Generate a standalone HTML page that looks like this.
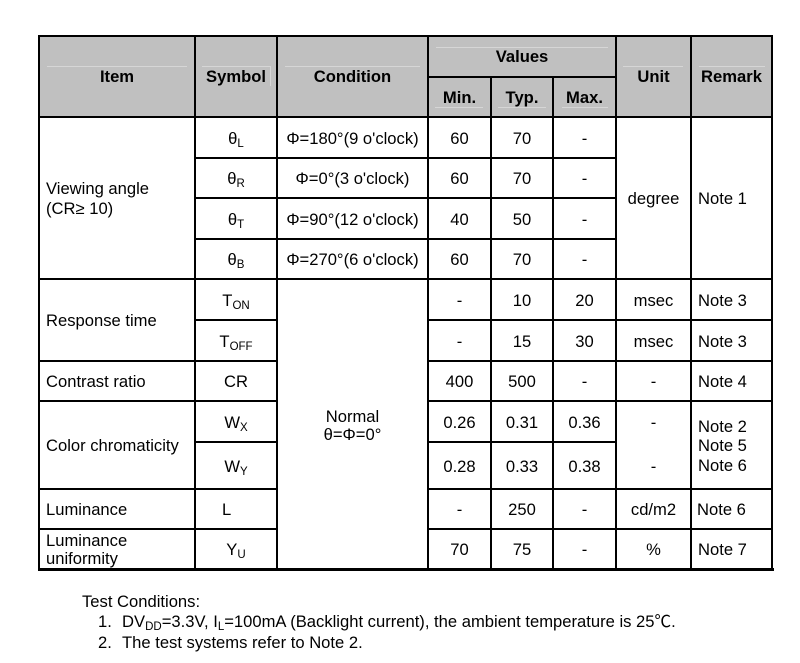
<!DOCTYPE html>
<html>
<head>
<meta charset="utf-8">
<style>
  html, body { margin:0; padding:0; background:#fff; }
  body { width:800px; height:663px; position:relative; overflow:hidden;
         font-family:"Liberation Sans", Arial, "Noto Sans CJK SC", sans-serif; font-size:16.6px; color:#000; }
  .c { position:absolute; display:flex; align-items:center; justify-content:center; text-align:center; line-height:20px; white-space:nowrap; padding-top:2px; box-sizing:border-box; }
  .l { justify-content:flex-start; text-align:left; }
  .h { background:#c0c0c0; }
  .b { font-weight:bold; font-size:16.6px; padding-top:1px; }
  .ln { position:absolute; background:#000; }
  .fl { position:absolute; background:#d6d6d6; }
  sub { font-size:11.5px; vertical-align:-3px; line-height:0; }
  .ft { position:absolute; line-height:20px; white-space:nowrap; }
</style>
</head>
<body>

<!-- header background -->
<div class="h" style="position:absolute;left:39px;top:36px;width:733px;height:81px;"></div>

<!-- faint header lines -->
<div class="fl" style="left:47px;top:66px;width:140px;height:1px;"></div>
<div class="fl" style="left:202px;top:66px;width:68px;height:1px;"></div>
<div class="fl" style="left:270px;top:66px;width:1px;height:20px;"></div>
<div class="fl" style="left:285px;top:66px;width:135px;height:1px;"></div>
<div class="fl" style="left:623px;top:66px;width:60px;height:1px;"></div>
<div class="fl" style="left:699px;top:66px;width:66px;height:1px;"></div>
<div class="fl" style="left:436px;top:47px;width:172px;height:1px;"></div>
<div class="fl" style="left:435px;top:107px;width:48px;height:1px;"></div>
<div class="fl" style="left:498px;top:107px;width:48px;height:1px;"></div>
<div class="fl" style="left:562px;top:107px;width:46px;height:1px;"></div>

<!-- outer border -->
<div class="ln" style="left:38px;top:35px;width:735px;height:2px;"></div>
<div class="ln" style="left:38px;top:568px;width:736px;height:3px;"></div>
<div class="ln" style="left:38px;top:35px;width:2px;height:536px;"></div>
<div class="ln" style="left:771px;top:35px;width:2px;height:536px;"></div>

<!-- vertical inner lines -->
<div class="ln" style="left:194px;top:36px;width:2px;height:534px;"></div>
<div class="ln" style="left:276px;top:36px;width:2px;height:534px;"></div>
<div class="ln" style="left:427px;top:36px;width:2px;height:534px;"></div>
<div class="ln" style="left:490px;top:76px;width:2px;height:494px;"></div>
<div class="ln" style="left:552px;top:76px;width:2px;height:494px;"></div>
<div class="ln" style="left:615px;top:36px;width:2px;height:534px;"></div>
<div class="ln" style="left:690px;top:36px;width:2px;height:534px;"></div>

<!-- horizontal inner lines -->
<div class="ln" style="left:428px;top:76px;width:188px;height:2px;"></div>
<div class="ln" style="left:39px;top:116px;width:733px;height:2px;"></div>
<div class="ln" style="left:195px;top:157px;width:421px;height:2px;"></div>
<div class="ln" style="left:195px;top:197px;width:421px;height:2px;"></div>
<div class="ln" style="left:195px;top:238px;width:421px;height:2px;"></div>
<div class="ln" style="left:39px;top:278px;width:733px;height:2px;"></div>
<div class="ln" style="left:195px;top:319px;width:82px;height:2px;"></div>
<div class="ln" style="left:428px;top:319px;width:344px;height:2px;"></div>
<div class="ln" style="left:39px;top:360px;width:238px;height:2px;"></div>
<div class="ln" style="left:428px;top:360px;width:344px;height:2px;"></div>
<div class="ln" style="left:39px;top:400px;width:238px;height:2px;"></div>
<div class="ln" style="left:428px;top:400px;width:344px;height:2px;"></div>
<div class="ln" style="left:195px;top:441px;width:82px;height:2px;"></div>
<div class="ln" style="left:428px;top:441px;width:188px;height:2px;"></div>
<div class="ln" style="left:39px;top:488px;width:238px;height:2px;"></div>
<div class="ln" style="left:428px;top:488px;width:344px;height:2px;"></div>
<div class="ln" style="left:39px;top:528px;width:238px;height:2px;"></div>
<div class="ln" style="left:428px;top:528px;width:344px;height:2px;"></div>

<!-- header text -->
<div class="c b" style="left:39px;top:36px;width:156px;height:80px;"><span>Item</span></div>
<div class="c b" style="left:195px;top:36px;width:82px;height:80px;"><span>Symbol</span></div>
<div class="c b" style="left:277px;top:36px;width:151px;height:80px;"><span>Condition</span></div>
<div class="c b" style="left:428px;top:36px;width:188px;height:41px;"><span>Values</span></div>
<div class="c b" style="left:428px;top:77px;width:63px;height:40px;"><span>Min.</span></div>
<div class="c b" style="left:491px;top:77px;width:62px;height:40px;"><span>Typ.</span></div>
<div class="c b" style="left:553px;top:77px;width:63px;height:40px;"><span>Max.</span></div>
<div class="c b" style="left:616px;top:36px;width:75px;height:80px;"><span>Unit</span></div>
<div class="c b" style="left:691px;top:36px;width:81px;height:80px;"><span>Remark</span></div>

<!-- Viewing angle -->
<div class="c l" style="left:46px;top:117px;width:148px;height:162px;"><span>Viewing angle<br>(CR≥ 10)</span></div>
<div class="c" style="left:195px;top:117px;width:82px;height:41px;"><span>θ<sub>L</sub></span></div>
<div class="c" style="left:195px;top:158px;width:82px;height:40px;"><span>θ<sub>R</sub></span></div>
<div class="c" style="left:195px;top:198px;width:82px;height:41px;"><span>θ<sub>T</sub></span></div>
<div class="c" style="left:195px;top:239px;width:82px;height:40px;"><span>θ<sub>B</sub></span></div>
<div class="c" style="left:277px;top:117px;width:151px;height:41px;"><span>Φ=180°(9 o'clock)</span></div>
<div class="c" style="left:277px;top:158px;width:151px;height:40px;"><span>Φ=0°(3 o'clock)</span></div>
<div class="c" style="left:277px;top:198px;width:151px;height:41px;"><span>Φ=90°(12 o'clock)</span></div>
<div class="c" style="left:277px;top:239px;width:151px;height:40px;"><span>Φ=270°(6 o'clock)</span></div>

<div class="c" style="left:428px;top:117px;width:63px;height:41px;"><span>60</span></div>
<div class="c" style="left:491px;top:117px;width:62px;height:41px;"><span>70</span></div>
<div class="c" style="left:553px;top:117px;width:63px;height:41px;"><span>-</span></div>
<div class="c" style="left:428px;top:158px;width:63px;height:40px;"><span>60</span></div>
<div class="c" style="left:491px;top:158px;width:62px;height:40px;"><span>70</span></div>
<div class="c" style="left:553px;top:158px;width:63px;height:40px;"><span>-</span></div>
<div class="c" style="left:428px;top:198px;width:63px;height:41px;"><span>40</span></div>
<div class="c" style="left:491px;top:198px;width:62px;height:41px;"><span>50</span></div>
<div class="c" style="left:553px;top:198px;width:63px;height:41px;"><span>-</span></div>
<div class="c" style="left:428px;top:239px;width:63px;height:40px;"><span>60</span></div>
<div class="c" style="left:491px;top:239px;width:62px;height:40px;"><span>70</span></div>
<div class="c" style="left:553px;top:239px;width:63px;height:40px;"><span>-</span></div>
<div class="c" style="left:616px;top:117px;width:75px;height:162px;"><span>degree</span></div>
<div class="c l" style="left:698px;top:117px;width:74px;height:162px;"><span>Note 1</span></div>

<!-- Response time -->
<div class="c l" style="left:46px;top:279px;width:148px;height:82px;"><span>Response time</span></div>
<div class="c" style="left:195px;top:279px;width:82px;height:41px;"><span>T<sub>ON</sub></span></div>
<div class="c" style="left:195px;top:320px;width:82px;height:41px;"><span>T<sub>OFF</sub></span></div>
<div class="c" style="left:277px;top:279px;width:151px;height:291px;line-height:18px;"><span>Normal<br>θ=Φ=0°</span></div>

<div class="c" style="left:428px;top:279px;width:63px;height:41px;"><span>-</span></div>
<div class="c" style="left:491px;top:279px;width:62px;height:41px;"><span>10</span></div>
<div class="c" style="left:553px;top:279px;width:63px;height:41px;"><span>20</span></div>
<div class="c" style="left:616px;top:279px;width:75px;height:41px;"><span>msec</span></div>
<div class="c l" style="left:698px;top:279px;width:74px;height:41px;"><span>Note 3</span></div>
<div class="c" style="left:428px;top:320px;width:63px;height:41px;"><span>-</span></div>
<div class="c" style="left:491px;top:320px;width:62px;height:41px;"><span>15</span></div>
<div class="c" style="left:553px;top:320px;width:63px;height:41px;"><span>30</span></div>
<div class="c" style="left:616px;top:320px;width:75px;height:41px;"><span>msec</span></div>
<div class="c l" style="left:698px;top:320px;width:74px;height:41px;"><span>Note 3</span></div>

<!-- Contrast ratio -->
<div class="c l" style="left:46px;top:361px;width:148px;height:40px;"><span>Contrast ratio</span></div>
<div class="c" style="left:195px;top:361px;width:82px;height:40px;"><span>CR</span></div>
<div class="c" style="left:428px;top:361px;width:63px;height:40px;"><span>400</span></div>
<div class="c" style="left:491px;top:361px;width:62px;height:40px;"><span>500</span></div>
<div class="c" style="left:553px;top:361px;width:63px;height:40px;"><span>-</span></div>
<div class="c" style="left:616px;top:361px;width:75px;height:40px;"><span>-</span></div>
<div class="c l" style="left:698px;top:361px;width:74px;height:40px;"><span>Note 4</span></div>

<!-- Color chromaticity -->
<div class="c l" style="left:46px;top:401px;width:148px;height:88px;"><span>Color chromaticity</span></div>
<div class="c" style="left:195px;top:401px;width:82px;height:41px;"><span>W<sub>X</sub></span></div>
<div class="c" style="left:195px;top:442px;width:82px;height:47px;"><span>W<sub>Y</sub></span></div>
<div class="c" style="left:428px;top:401px;width:63px;height:41px;"><span>0.26</span></div>
<div class="c" style="left:491px;top:401px;width:62px;height:41px;"><span>0.31</span></div>
<div class="c" style="left:553px;top:401px;width:63px;height:41px;"><span>0.36</span></div>
<div class="c" style="left:616px;top:401px;width:75px;height:41px;"><span>-</span></div>
<div class="c" style="left:428px;top:442px;width:63px;height:47px;"><span>0.28</span></div>
<div class="c" style="left:491px;top:442px;width:62px;height:47px;"><span>0.33</span></div>
<div class="c" style="left:553px;top:442px;width:63px;height:47px;"><span>0.38</span></div>
<div class="c" style="left:616px;top:442px;width:75px;height:47px;"><span>-</span></div>
<div class="c l" style="left:698px;top:401px;width:74px;height:88px;line-height:19.5px;"><span>Note 2<br>Note 5<br>Note 6</span></div>

<!-- Luminance -->
<div class="c l" style="left:46px;top:489px;width:148px;height:40px;"><span>Luminance</span></div>
<div class="c l" style="left:222px;top:489px;width:55px;height:40px;"><span>L</span></div>
<div class="c" style="left:428px;top:489px;width:63px;height:40px;"><span>-</span></div>
<div class="c" style="left:491px;top:489px;width:62px;height:40px;"><span>250</span></div>
<div class="c" style="left:553px;top:489px;width:63px;height:40px;"><span>-</span></div>
<div class="c" style="left:616px;top:489px;width:75px;height:40px;"><span>cd/m2</span></div>
<div class="c l" style="left:697px;top:489px;width:75px;height:40px;"><span>Note 6</span></div>

<!-- Luminance uniformity -->
<div class="c l" style="left:46px;top:529px;width:148px;height:40px;line-height:18px;"><span>Luminance<br>uniformity</span></div>
<div class="c" style="left:195px;top:529px;width:82px;height:40px;"><span>Y<sub>U</sub></span></div>
<div class="c" style="left:428px;top:529px;width:63px;height:40px;"><span>70</span></div>
<div class="c" style="left:491px;top:529px;width:62px;height:40px;"><span>75</span></div>
<div class="c" style="left:553px;top:529px;width:63px;height:40px;"><span>-</span></div>
<div class="c" style="left:616px;top:529px;width:75px;height:40px;"><span>%</span></div>
<div class="c l" style="left:698px;top:529px;width:74px;height:40px;"><span>Note 7</span></div>

<!-- footer -->
<div class="ft" style="left:82px;top:592px;">Test Conditions:</div>
<div class="ft" style="left:98px;top:612px;">1.</div>
<div class="ft" style="left:122px;top:612px;">DV<sub>DD</sub>=3.3V, I<sub>L</sub>=100mA (Backlight current), the ambient temperature is 25℃.</div>
<div class="ft" style="left:98px;top:633px;">2.</div>
<div class="ft" style="left:122px;top:633px;">The test systems refer to Note 2.</div>

</body>
</html>
